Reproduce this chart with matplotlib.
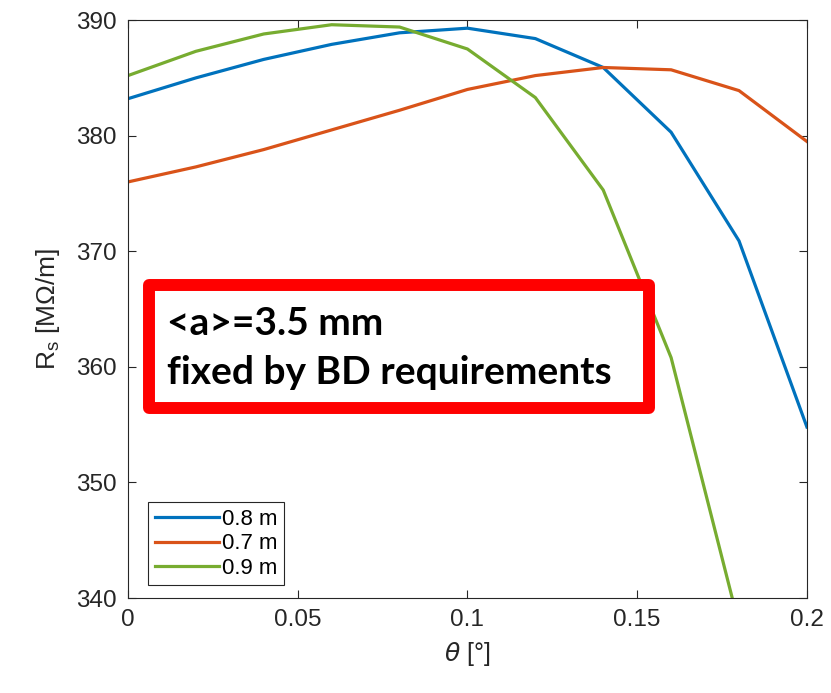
import matplotlib
matplotlib.use('Agg')
import matplotlib.pyplot as plt
from matplotlib.patches import Rectangle

# theta in degrees, Rs in MOhm/m
theta = [0, 0.02, 0.04, 0.06, 0.08, 0.1, 0.12, 0.14, 0.16, 0.18, 0.2]
rs_08 = [383.2, 385.0, 386.6, 387.9, 388.9, 389.3, 388.4, 385.9, 380.3, 370.9, 354.8]
rs_07 = [376.0, 377.3, 378.8, 380.5, 382.2, 384.0, 385.2, 385.9, 385.7, 383.9, 379.5]
rs_09 = [385.2, 387.3, 388.8, 389.6, 389.4, 387.5, 383.3, 375.3, 360.8, 337.7]
labels = ['0.8 m', '0.7 m', '0.9 m']

plt.rcParams['font.family'] = ['Liberation Sans', 'DejaVu Sans']

fig = plt.figure(figsize=(8.31, 6.93), dpi=100)
ax = fig.add_axes([0.154, 0.137, 0.817, 0.834])

ax.plot(theta, rs_08, c='#0072BD', lw=2.3, label=labels[0])
ax.plot(theta, rs_07, c='#D95319', lw=2.3, label=labels[1])
ax.plot(theta[:len(rs_09)], rs_09, c='#77AC30', lw=2.3, label=labels[2])

ax.set_xlim(0, 0.2)
ax.set_ylim(340, 390)
ax.set_xticks([0, 0.05, 0.1, 0.15, 0.2])
ax.set_xticklabels(['0', '0.05', '0.1', '0.15', '0.2'])
ax.set_yticks([340, 350, 360, 370, 380, 390])
ax.tick_params(direction='in', top=True, right=True, labelsize=17.5, colors='#262626',
               length=6, width=0.8, pad=8)
for s in ax.spines.values():
    s.set_color('#262626')
    s.set_linewidth(0.8)

ax.set_xlabel(r'$\theta$ [°]', fontsize=18, color='#262626', labelpad=6)
ax.set_ylabel(r'R$_\mathregular{s}$ [MΩ/m]', fontsize=19, color='#262626', labelpad=10)

leg = ax.legend(loc='lower left', bbox_to_anchor=(0.03, 0.022), fontsize=16,
                handlelength=2.9, handletextpad=0.1, borderpad=0.3,
                labelspacing=0.15, fancybox=False, edgecolor='#262626',
                framealpha=1, borderaxespad=0)
leg.get_frame().set_linewidth(0.8)

# red annotation box
box = Rectangle((149 / 831, 1 - 408 / 693), 500 / 831, 123 / 693, transform=fig.transFigure,
                fill=True, facecolor='white', edgecolor='#FF0000', lw=8.6, joinstyle='round')
fig.patches.append(box)
fig.text(167 / 831, 1 - 324 / 693, '<a>=3.5 mm', fontsize=28, fontweight='bold',
         family='Lato', va='center', ha='left')
fig.text(167 / 831, 1 - 373 / 693, 'fixed by BD requirements', fontsize=28,
         fontweight='bold', family='Lato', va='center', ha='left')

fig.savefig('out.png', dpi=100)
